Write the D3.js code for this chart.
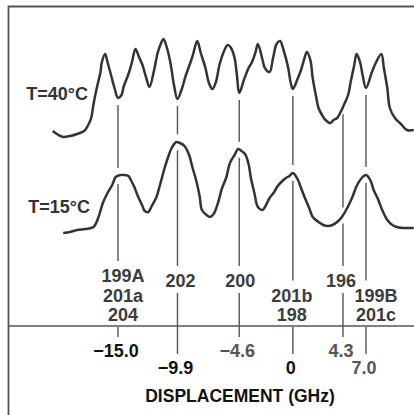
<!DOCTYPE html>
<html>
<head>
<meta charset="utf-8">
<script src="https://cdn.jsdelivr.net/npm/d3@7"></script>
<style>
  body { margin: 0; background: #fff; }
  svg { display: block; font-family: "Liberation Sans", Arial, sans-serif; font-weight: bold; }
</style>
</head>
<body>
<div id="graf"></div>
<script>
// trazas: [desplazamiento GHz, intensidad relativa]
const trace40 = [
  [-20.6, 9], [-20.1, 5], [-19.7, 3], [-19.1, 4], [-18.5, 6], [-17.9, 9], [-17.6, 14], [-17.3, 22],
  [-17.1, 36], [-16.8, 53], [-16.5, 68], [-16.4, 77], [-16.1, 86], [-15.9, 78], [-15.6, 65], [-15.3, 52],
  [-15.0, 42], [-14.7, 45], [-14.5, 54], [-14.1, 66], [-13.8, 78], [-13.5, 91], [-13.2, 83], [-12.9, 75],
  [-12.6, 63], [-12.3, 53], [-11.9, 70], [-11.6, 87], [-11.3, 97], [-11.1, 101], [-10.8, 92], [-10.5, 77],
  [-10.2, 55], [-9.9, 41], [-9.5, 52], [-9.2, 64], [-8.8, 77], [-8.6, 84], [-8.2, 99], [-7.9, 87],
  [-7.5, 72], [-7.2, 57], [-6.9, 51], [-6.6, 58], [-6.3, 75], [-5.9, 89], [-5.6, 95], [-5.3, 92],
  [-5.0, 82], [-4.8, 65], [-4.6, 47], [-4.2, 60], [-3.8, 72], [-3.5, 78], [-3.2, 88], [-3.0, 96],
  [-2.6, 80], [-2.4, 72], [-2.0, 68], [-1.7, 82], [-1.4, 96], [-1.1, 99], [-0.8, 90], [-0.4, 72],
  [-0.2, 58], [0.0, 51], [0.4, 61], [0.7, 70], [1.0, 82], [1.2, 88], [1.5, 80], [1.7, 62],
  [2.0, 43], [2.2, 32], [2.5, 25], [2.8, 20], [3.2, 17], [3.5, 20], [3.8, 22], [4.1, 28],
  [4.4, 35], [4.9, 45], [5.2, 58], [5.6, 74], [5.9, 86], [6.3, 78], [6.6, 65], [7.0, 52],
  [7.7, 68], [8.2, 78], [8.8, 86], [9.1, 72], [9.5, 52], [9.8, 32], [10.4, 22], [11.1, 16],
  [11.8, 10], [12.6, 10]
]

const trace15 = [
  [-19.7, 2], [-19.1, 3], [-18.5, 5], [-17.8, 6], [-17.1, 8], [-16.7, 17], [-16.3, 32], [-15.9, 42],
  [-15.5, 50], [-15.2, 58], [-14.8, 60], [-14.5, 60], [-14.1, 59], [-13.9, 55], [-13.6, 48], [-13.3, 39],
  [-12.9, 29], [-12.7, 24], [-12.4, 23], [-12.1, 29], [-11.7, 38], [-11.4, 50], [-11.0, 67], [-10.7, 78],
  [-10.4, 87], [-10.0, 93], [-9.7, 92], [-9.3, 89], [-8.9, 80], [-8.6, 67], [-8.3, 55], [-8.0, 39],
  [-7.8, 25], [-7.4, 20], [-7.1, 18], [-6.8, 21], [-6.4, 33], [-6.1, 46], [-5.7, 58], [-5.4, 72],
  [-5.0, 80], [-4.7, 86], [-4.4, 84], [-4.1, 81], [-3.8, 71], [-3.6, 57], [-3.3, 42], [-3.0, 28],
  [-2.6, 25], [-2.3, 30], [-2.0, 37], [-1.6, 43], [-1.3, 49], [-0.9, 54], [-0.6, 57], [-0.3, 59],
  [0.0, 62], [0.4, 56], [0.7, 47], [1.0, 38], [1.4, 27], [1.7, 18], [2.2, 13], [2.6, 10],
  [3.0, 9], [3.4, 10], [3.9, 14], [4.2, 18], [4.8, 27], [5.4, 38], [5.9, 49], [6.5, 57],
  [7.0, 60], [7.5, 55], [7.9, 45], [8.4, 36], [8.9, 25], [9.5, 15], [10.1, 10], [10.6, 8],
  [11.3, 7], [11.9, 7], [12.6, 7]
]

const peaks = [-15.0, -9.9, -4.6, 0, 4.3, 7.0]
const tickText = ["−15.0", "−9.9", "−4.6", "0", "4.3", "7.0"]
const peakNames = [["199A", "201a", "204"], ["202"], ["200"], ["201b", "198"], ["196"], ["199B", "201c"]]
const tempLabels = ["T=40°C", "T=15°C"]
const axisTitle = "DISPLACEMENT (GHz)"

// dimensiones
const anchoTotal = 414
const altoTotal = 415
const ejeY = 326

const svg = d3.select("#graf")
  .append("svg")
  .attr("width", anchoTotal)
  .attr("height", altoTotal)

// escala horizontal (la original no es del todo lineal más allá de 4.3 GHz)
const x = d3.scaleLinear().domain([-15, 4.3, 7.0]).range([118, 343, 366])
const yTop = d3.scaleLinear().domain([0, 100]).range([140, 40])
const yBot = d3.scaleLinear().domain([0, 100]).range([235, 135])

// valor de una traza en un desplazamiento dado
const bis = d3.bisector((d) => d[0]).left
const at = (tr, g) => {
  const i = Math.max(1, Math.min(tr.length - 1, bis(tr, g)))
  const a = tr[i - 1], b = tr[i]
  return a[1] + ((g - a[0]) / (b[0] - a[0])) * (b[1] - a[1])
}

// marco
svg.append("path")
  .attr("d", `M8.5,${altoTotal} V6.5 H${anchoTotal}`)
  .attr("fill", "none")
  .attr("stroke", "#555")
  .attr("stroke-width", 1.8)

svg.append("line")
  .attr("x1", 8).attr("x2", anchoTotal)
  .attr("y1", ejeY).attr("y2", ejeY)
  .attr("stroke", "#555")
  .attr("stroke-width", 1.6)

// trazas
const linea40 = d3.line().x((d) => x(d[0])).y((d) => yTop(d[1])).curve(d3.curveCatmullRom.alpha(0.5))
const linea15 = d3.line().x((d) => x(d[0])).y((d) => yBot(d[1])).curve(d3.curveCatmullRom.alpha(0.5))

svg.append("path").datum(trace40)
  .attr("d", linea40)
  .attr("fill", "none")
  .attr("stroke", "#333")
  .attr("stroke-width", 2.5)
  .attr("stroke-linejoin", "round")

svg.append("path").datum(trace15)
  .attr("d", linea15)
  .attr("fill", "none")
  .attr("stroke", "#333")
  .attr("stroke-width", 2.5)
  .attr("stroke-linejoin", "round")

// etiquetas de temperatura
svg.selectAll(".temp").data(tempLabels)
  .enter()
  .append("text")
  .attr("class", "temp")
  .attr("x", (d, i) => (i === 0 ? 88 : 90))
  .attr("y", (d, i) => (i === 0 ? 100 : 213))
  .attr("text-anchor", "end")
  .attr("font-size", 18)
  .attr("fill", "#333")
  .text((d) => d)

// líneas de referencia, nombres y marcas del eje
const nameShift = [5, 3, 1, -1, -2, 10]
const tickTone = ["#111", "#111", "#555", "#111", "#555", "#555"]

peaks.forEach((g, i) => {
  const px = x(g)
  const names = peakNames[i]
  const baselines = names.length === 1
    ? [287]
    : names.map((n, k) => 321 - (names.length - 1 - k) * 19.5)
  const tickBase = i % 2 === 0 ? 357 : 374
  const yb = yBot(at(trace15, g))
  const segs = [
    [yTop(at(trace40, g)) + 7, yb - 8],
    [yb + 8, baselines[0] - 21],
    [baselines[baselines.length - 1] + 6, tickBase - 20]
  ]

  svg.selectAll(null).data(segs)
    .enter()
    .append("line")
    .attr("x1", px).attr("x2", px)
    .attr("y1", (d) => d[0]).attr("y2", (d) => d[1])
    .attr("stroke", "#555")
    .attr("stroke-width", 1.4)

  svg.selectAll(null).data(names)
    .enter()
    .append("text")
    .attr("x", px + nameShift[i])
    .attr("y", (d, k) => baselines[k])
    .attr("text-anchor", "middle")
    .attr("font-size", 18)
    .attr("fill", "#3c3c3c")
    .text((d) => d)

  svg.append("text")
    .attr("x", px - 2)
    .attr("y", tickBase)
    .attr("text-anchor", "middle")
    .attr("font-size", 18)
    .attr("fill", tickTone[i])
    .text(tickText[i])
})

svg.append("text")
  .attr("x", 240)
  .attr("y", 402)
  .attr("text-anchor", "middle")
  .attr("font-size", 17.5)
  .attr("fill", "#111")
  .text(axisTitle)
</script>
</body>
</html>
